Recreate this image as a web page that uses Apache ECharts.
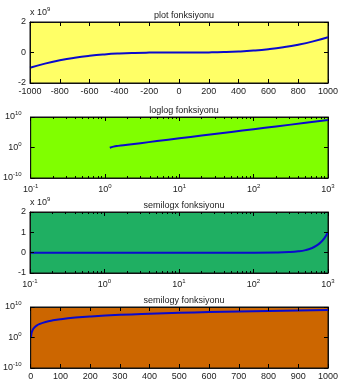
<!DOCTYPE html>
<html>
<head>
<meta charset="utf-8">
<script src="https://cdn.jsdelivr.net/npm/echarts@6/dist/echarts.min.js"></script>
<style>
html,body{margin:0;padding:0;background:#fff;}
#c{width:347px;height:381px;}
</style>
</head>
<body>
<div id="c"></div>
<script>
// ---- data (y = x^3) ----
var titles = ['plot fonksiyonu', 'loglog fonksiyonu', 'semilogx fonksiyonu', 'semilogy fonksiyonu'];
var panelColors = ['#ffff66', '#80ff00', '#1faf62', '#cc6600'];

var plotX = [-1000,-900,-800,-700,-600,-500,-400,-300,-200,-100,0,100,200,300,400,500,600,700,800,900,1000];
var plotY = [-1e9,-7.29e8,-5.12e8,-3.43e8,-2.16e8,-1.25e8,-6.4e7,-2.7e7,-8e6,-1e6,0,1e6,8e6,2.7e7,6.4e7,1.25e8,2.16e8,3.43e8,5.12e8,7.29e8,1e9];

var loglogX = [1.16,1.3,1.5,2,3,5,10,20,50,100,200,500,1000];
var loglogY = [0.8,1.9,3.4,8,27,125,1000,8000,125000,1e6,8e6,1.25e8,1e9];

var semilogxX = [0.1,1.16,10,100,200,300,400,500,600,700,800,900,1000];
var semilogxY = [0,1.6,1000,1e6,8e6,2.7e7,6.4e7,1.25e8,2.16e8,3.43e8,5.12e8,7.29e8,1e9];

var semilogyX = [1,2,3,5,10,20,30,50,75,100,150,200,300,400,500,600,700,800,900,1000];
var semilogyY = [1,8,27,125,1000,8000,27000,125000,421875,1e6,3.375e6,8e6,2.7e7,6.4e7,1.25e8,2.16e8,3.43e8,5.12e8,7.29e8,1e9];

var plotXTicks = {min:-1000, max:1000, interval:200};
var plotYTicks = {min:-2e9, max:2e9, interval:2e9};
var semxYTicks = {min:-1e9, max:2e9, interval:1e9};
var semyXTicks = {min:0, max:1000, interval:100};
var logXTicks = {min:0.1, max:1000, splitNumber:4};
var logYTicks = {min:1e-10, max:1e10, splitNumber:2};

// ---- layout ----
var FONT = "'Liberation Sans', Arial, sans-serif";
var tops = [22, 117, 212, 307];
var GL = 30, GW = 298, GH = 61;
var lineColor = '#0a0acc';
var textColor = '#222';

var richSup = {
  b: {fontSize: 9, fontFamily: FONT, color: textColor},
  s: {fontSize: 6, fontFamily: FONT, color: textColor, padding: [0,0,7,0]}
};
function logFmt(v) {
  var e = Math.round(Math.log(v) / Math.LN10);
  return '{b|10}{s|' + e + '}';
}

var grids = [], xAxes = [], yAxes = [], series = [], titleArr = [];
var tickStyle = {color: '#000', width: 1};

function axisBase(kind, lim, pos, gi, mirror, extra) {
  var a = {
    gridIndex: gi,
    position: pos,
    type: kind,
    min: lim.min, max: lim.max,
    axisLine: {show: true, onZero: false, lineStyle: {color: '#111', width: 1}},
    axisTick: {show: true, inside: true, length: 4, lineStyle: tickStyle},
    splitLine: {show: false},
    axisLabel: {show: !mirror, color: textColor, fontSize: 9, fontFamily: FONT, margin: 4, hideOverlap: false,
      showMinLabel: true, showMaxLabel: true, formatter: function (v) { return String(v); }},
    z: 5
  };
  if (kind === 'value') { a.interval = lim.interval; }
  else { a.logBase = 10; a.splitNumber = lim.splitNumber; }
  if (extra) { for (var k in extra) a[k] = extra[k]; }
  return a;
}

for (var i = 0; i < 4; i++) {
  grids.push({left: GL, top: tops[i], width: GW, height: GH, show: true,
    backgroundColor: panelColors[i], borderColor: '#111', borderWidth: 1});
  titleArr.push({text: titles[i], left: GL + GW / 2, top: tops[i] - 16, textAlign: 'center',
    textStyle: {fontSize: 9, fontWeight: 'normal', color: textColor, fontFamily: FONT}});
}

var xDefs = [
  ['value', plotXTicks],
  ['log', logXTicks],
  ['log', logXTicks],
  ['value', semyXTicks]
];
var yDefs = [
  ['value', plotYTicks],
  ['log', logYTicks],
  ['value', semxYTicks],
  ['log', logYTicks]
];
for (var i = 0; i < 4; i++) {
  [false, true].forEach(function (mirror) {
    var d = xDefs[i];
    var extra = {};
    if (d[0] === 'log') {
      extra.minorTick = {show: true, splitNumber: 9, length: 2, lineStyle: tickStyle};
      extra.axisLabel = {show: !mirror, color: textColor, margin: 5, formatter: logFmt, rich: richSup, showMinLabel: true, showMaxLabel: true};
    }
    xAxes.push(axisBase(d[0], d[1], mirror ? 'top' : 'bottom', i, mirror, extra));
  });
  [false, true].forEach(function (mirror) {
    var d = yDefs[i];
    var extra = {};
    if (d[0] === 'log') {
      extra.axisLabel = {show: !mirror, color: textColor, margin: 9, formatter: logFmt,
        rich: richSup, showMinLabel: true, showMaxLabel: true};
    } else {
      extra.axisLabel = {show: !mirror, color: textColor, fontSize: 9, fontFamily: FONT, margin: 4,
        formatter: function (v) { return String(Math.round(v / 1e9)); }};
      extra.name = mirror ? '' : 'x 10{s|9}';
      extra.nameLocation = 'end';
      extra.nameGap = 3;
      extra.nameTextStyle = {color: textColor, fontSize: 9, fontFamily: FONT, align: 'left', rich: richSup};
    }
    yAxes.push(axisBase(d[0], d[1], mirror ? 'right' : 'left', i, mirror, extra));
  });
}

function pairs(xs, ys) { return xs.map(function (x, k) { return [x, ys[k]]; }); }
var datasets = [pairs(plotX, plotY), pairs(loglogX, loglogY), pairs(semilogxX, semilogxY), pairs(semilogyX, semilogyY)];
for (var i = 0; i < 4; i++) {
  series.push({type: 'line', xAxisIndex: i * 2, yAxisIndex: i * 2, data: datasets[i],
    showSymbol: false, smooth: true, clip: true, lineStyle: {color: lineColor, width: 2}, z: 3, animation: false});
}

var chart = echarts.init(document.getElementById('c'), null, {renderer: 'canvas'});
chart.setOption({
  animation: false,
  backgroundColor: '#fff',
  title: titleArr,
  grid: grids,
  xAxis: xAxes,
  yAxis: yAxes,
  series: series
});
</script>
</body>
</html>
